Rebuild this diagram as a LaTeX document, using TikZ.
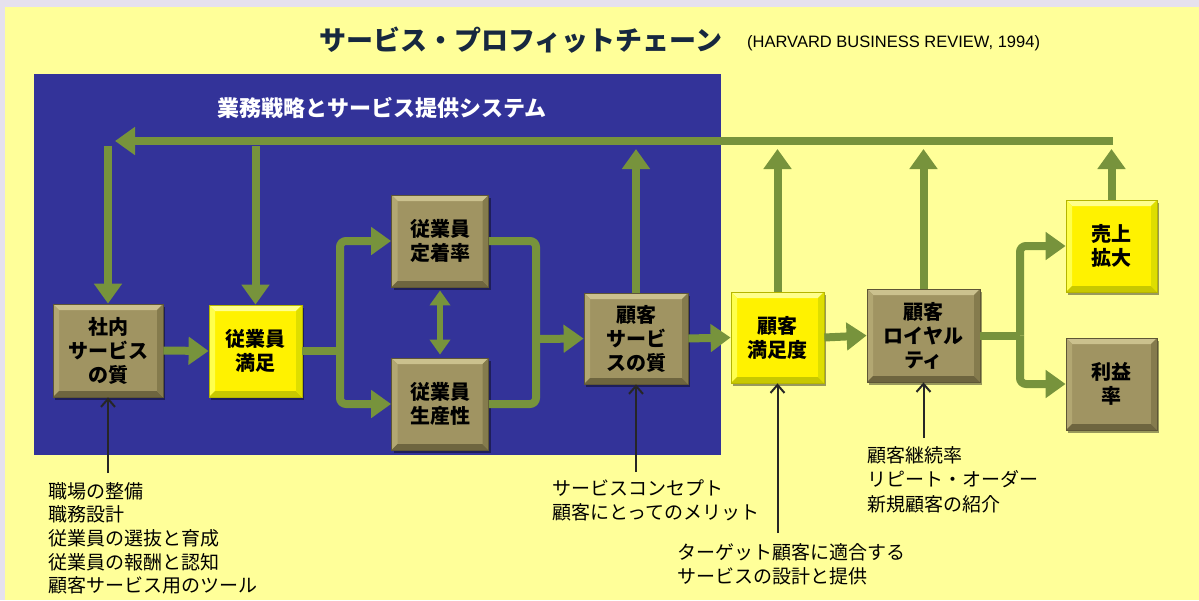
\documentclass[tikz,border=0pt]{standalone}
\usepackage{fontspec}
\setmainfont{Noto Sans CJK JP}
\newfontfamily\latfont{Liberation Sans}
\usetikzlibrary{arrows.meta,shadows}
\definecolor{lav}{HTML}{E6E1EE}
\definecolor{paleY}{HTML}{FFFF99}
\definecolor{navy}{HTML}{333399}
\definecolor{grn}{HTML}{77933C}
\definecolor{khaki}{HTML}{A09462}
\definecolor{khakiT}{HTML}{CBC18E}
\definecolor{khakiL}{HTML}{B2A772}
\definecolor{khakiB}{HTML}{6E653F}
\definecolor{khakiR}{HTML}{857B4D}
\definecolor{khakiE}{HTML}{5E5636}
\definecolor{yelT}{HTML}{FFFF8C}
\definecolor{yelL}{HTML}{FFFF4D}
\definecolor{yelB}{HTML}{C8C800}
\definecolor{yelR}{HTML}{DEDE00}
\definecolor{yelE}{HTML}{B5B500}
\definecolor{titlec}{HTML}{17283F}
\tikzset{
  bevel/.style n args={4}{path picture={
    \fill[#1] (path picture bounding box.north west) -- (path picture bounding box.north east)
      -- ([shift={(-6pt,-6pt)}]path picture bounding box.north east) -- ([shift={(6pt,-6pt)}]path picture bounding box.north west) -- cycle;
    \fill[#2] (path picture bounding box.north west) -- (path picture bounding box.south west)
      -- ([shift={(6pt,6pt)}]path picture bounding box.south west) -- ([shift={(6pt,-6pt)}]path picture bounding box.north west) -- cycle;
    \fill[#3] (path picture bounding box.south west) -- (path picture bounding box.south east)
      -- ([shift={(-6pt,6pt)}]path picture bounding box.south east) -- ([shift={(6pt,6pt)}]path picture bounding box.south west) -- cycle;
    \fill[#4] (path picture bounding box.north east) -- (path picture bounding box.south east)
      -- ([shift={(-6pt,6pt)}]path picture bounding box.south east) -- ([shift={(-6pt,-6pt)}]path picture bounding box.north east) -- cycle;
  }},
  boxbase/.style={rectangle, inner sep=0pt, align=center,
    font=\bfseries\fontsize{20}{24}\selectfont, text=black, line width=0.8pt,
    drop shadow={shadow xshift=2pt, shadow yshift=-3pt, fill=black, opacity=0.4}},
  kbox/.style={boxbase, fill=khaki, draw=khakiE, bevel={khakiT}{khakiL}{khakiB}{khakiR}},
  ybox/.style={boxbase, fill=yellow, draw=yelE, bevel={yelT}{yelL}{yelB}{yelR}},
  garrow/.style={draw=grn, line width=8pt, -{Triangle[length=20pt,width=27pt]}},
  gline/.style={draw=grn, line width=8pt},
  gdouble/.style={draw=grn, line width=6pt, {Triangle[length=15pt,width=20pt]}-{Triangle[length=15pt,width=20pt]}},
  barrow/.style={draw=black!85, line width=2pt, -{Straight Barb[length=8pt,width=14pt]}},
  note/.style={font=\fontsize{19}{23.7}\selectfont, align=left, inner sep=0pt, text=black, anchor=north west},
}
\begin{document}
\begin{tikzpicture}[x=1pt,y=-1pt]
\useasboundingbox (0,0) rectangle (1199,600);
\fill[lav] (0,0) rectangle (1199,600);
\fill[paleY] (5,7) rectangle (1199,600);
\fill[navy] (34,74) rectangle (721,455);

% titles
\node[anchor=west, inner sep=0pt, text=titlec, font=\bfseries\fontsize{27}{30}\selectfont] (title) at (319,40) {サービス・プロフィットチェーン};
\node[anchor=west, inner sep=0pt, text=black, font=\latfont\fontsize{16.5}{18}\selectfont] (src) at (747,43) {(HARVARD BUSINESS REVIEW, 1994)};
\node[inner sep=0pt, text=white, font=\bfseries\fontsize{22}{24}\selectfont] (sys) at (382,108) {業務戦略とサービス提供システム};

% boxes
\node[kbox, minimum width=110pt, minimum height=93pt] (shanai) at (108,350.5) {社内\\サービス\\の質};
\node[ybox, minimum width=93pt, minimum height=92pt] (jman) at (255.5,351) {従業員\\満足};
\node[kbox, minimum width=97pt, minimum height=92pt] (teichaku) at (440,241) {従業員\\定着率};
\node[kbox, minimum width=97pt, minimum height=92pt] (seisan) at (440,404) {従業員\\生産性};
\node[kbox, minimum width=104pt, minimum height=91pt] (kserv) at (636,338.5) {顧客\\サービ\\スの質};
\node[ybox, minimum width=93pt, minimum height=91pt] (kman) at (777.5,337.5) {顧客\\満足度};
\node[kbox, minimum width=113pt, minimum height=93pt] (loyal) at (923.5,335.5) {顧客\\ロイヤル\\ティ};
\node[ybox, minimum width=91pt, minimum height=92pt] (uriage) at (1111.5,246) {売上\\拡大};
\node[kbox, minimum width=91pt, minimum height=92pt] (rieki) at (1111.5,384) {利益\\率};

% feedback loop
\coordinate (topR) at (1113,141);
\coordinate (topL) at (115,141);
\coordinate (d1) at (108,146);
\coordinate (d2) at (255.5,146);
\coordinate (u1) at (636,149);
\coordinate (u2) at (777.5,149);
\coordinate (u3) at (923.5,149);
\coordinate (u4) at (1111.5,149);
\draw[garrow] (topR) -- (topL);
\draw[garrow] (d1) -- (shanai.north);
\draw[garrow] (d2) -- (jman.north);
\draw[garrow] (kserv.north) -- (u1);
\draw[garrow] (kman.north) -- (u2);
\draw[garrow] (loyal.north) -- (u3);
\draw[garrow] (uriage.north) -- (u4);

% main chain
\coordinate (sp1) at (340,351);
\coordinate (mg1) at (536,339);
\coordinate (sp2) at (1020,335.5);
\draw[garrow] (shanai.east) -- (jman.west);
\draw[gline] (jman.east) -- (sp1);
\draw[garrow, rounded corners=6pt] (sp1) |- (teichaku.west);
\draw[garrow, rounded corners=6pt] (sp1) |- (seisan.west);
\draw[gdouble, shorten <=3pt, shorten >=3pt] (teichaku.south) -- (seisan.north);
\draw[gline, rounded corners=6pt] (teichaku.east) -| (mg1);
\draw[gline, rounded corners=6pt] (seisan.east) -| (mg1);
\draw[garrow] (mg1) -- (kserv.west);
\draw[garrow] (kserv.east) -- (kman.west);
\draw[garrow] (kman.east) -- (loyal.west);
\draw[gline] (loyal.east) -- (sp2);
\draw[garrow, rounded corners=6pt] (sp2) |- (uriage.west);
\draw[garrow, rounded corners=6pt] (sp2) |- (rieki.west);

% drivers
\coordinate (b1) at (108,473);
\coordinate (b2) at (636,472);
\coordinate (b3) at (777.5,533);
\coordinate (b4) at (923.5,438);
\draw[barrow] (b1) -- (shanai.south);
\draw[barrow] (b2) -- (kserv.south);
\draw[barrow] (b3) -- (kman.south);
\draw[barrow] (b4) -- (loyal.south);

\node[note] (n1) at (48,482) {職場の整備\\職務設計\\従業員の選抜と育成\\従業員の報酬と認知\\顧客サービス用のツール};
\node[note, font=\fontsize{19}{24}\selectfont] (n2) at (552,480) {サービスコンセプト\\顧客にとってのメリット};
\node[note, font=\fontsize{19}{24}\selectfont] (n3) at (677,543) {ターゲット顧客に適合する\\サービスの設計と提供};
\node[note, font=\fontsize{19}{24.5}\selectfont] (n4) at (867,446) {顧客継続率\\リピート・オーダー\\新規顧客の紹介};
\end{tikzpicture}
\end{document}
